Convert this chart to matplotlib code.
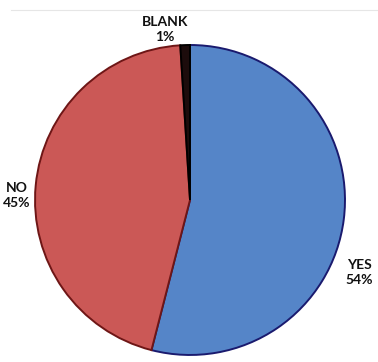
import matplotlib.pyplot as plt
from matplotlib.lines import Line2D

labels = ["YES", "NO", "BLANK"]
shares = [54, 45, 1]
colors = ["#5585c8", "#cb5856", "#1c0c0c"]
edges = ["#1a1a6e", "#6e1616", "#000000"]

fig = plt.figure(figsize=(3.78, 3.62), dpi=100)
ax = fig.add_axes([0, 0, 1, 1])

wedges, _ = ax.pie(shares, colors=colors, startangle=90, counterclock=False,
                   radius=1.0, center=(0, 0),
                   wedgeprops=dict(linewidth=1.4))
for w, ec in zip(wedges, edges):
    w.set_edgecolor(ec)

ax.set_xlim(-1.226, 1.213)
ax.set_ylim(-1.045, 1.29)
ax.set_aspect("equal")
ax.axis("off")

font = dict(family=["Lato", "DejaVu Sans"], fontsize=10, fontweight="bold",
            ha="center", va="center", color="#111111", linespacing=1.3)
ax.text(-0.16, 1.10, f"{labels[2]}\n{shares[2]}%", **font)
ax.text(-1.12, 0.03, f"{labels[1]}\n{shares[1]}%", **font)
ax.text(1.09, -0.47, f"{labels[0]}\n{shares[0]}%", **font)

# faint border line at the top of the original chart area
fig.add_artist(Line2D([0.03, 1.0], [0.972, 0.972], color="#e6e6e6", lw=0.8))

fig.savefig("out.png", dpi=100)
